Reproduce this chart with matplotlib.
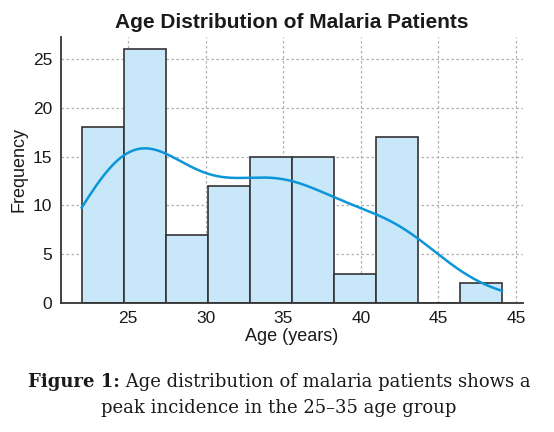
import numpy as np
import matplotlib
matplotlib.use("Agg")
import matplotlib.pyplot as plt

# ---- data ----
age_min = 22.0
age_max = 49.1
n_bins = 10
counts = [18, 26, 7, 12, 15, 15, 3, 17, 0, 2]
xtick_values = [25, 30, 35, 40, 45, 50]
xtick_labels = ["25", "30", "35", "40", "45", "45"]
ytick_values = [0, 5, 10, 15, 20, 25]
title = "Age Distribution of Malaria Patients"
xlabel = "Age (years)"
ylabel = "Frequency"
caption_bold = "Figure 1:"
caption_line1 = " Age distribution of malaria patients shows a"
caption_line2 = "peak incidence in the 25\u201335 age group"

plt.rcParams['font.family'] = ['Liberation Sans', 'DejaVu Sans']

edges = np.linspace(age_min, age_max, n_bins + 1)
centers = (edges[:-1] + edges[1:]) / 2
width = edges[1] - edges[0]
counts_arr = np.array(counts)

fig = plt.figure(figsize=(5.54, 4.32), dpi=100)
ax = fig.add_axes([0.1096, 0.2986, 0.8344, 0.6164])

ax.bar(edges[:-1], counts_arr, width=width, align='edge',
       color='#c8e7f9', edgecolor='#333333', linewidth=1.2, zorder=2)

# KDE curve from the histogram counts (scaled to counts)
samples = np.repeat(centers, counts_arr)
n = samples.size
bw = 1.22 * samples.std(ddof=1) * n ** (-1 / 5)
xs = np.linspace(age_min, age_max, 300)
dens = np.exp(-0.5 * ((xs[:, None] - samples[None, :]) / bw) ** 2).sum(axis=1)
dens = dens / (n * bw * np.sqrt(2 * np.pi))
ax.plot(xs, dens * n * width, color='#0a96d8', linewidth=1.8, zorder=3)

span = age_max - age_min
ax.set_xlim(age_min - 0.05 * span, age_max + 0.05 * span)
ax.set_ylim(0, max(counts) * 1.05)
ax.set_xticks(xtick_values)
ax.set_xticklabels(xtick_labels)
ax.set_yticks(ytick_values)
ax.tick_params(axis='both', length=0, labelsize=12.5, colors='#1a1a1a', pad=6)
ax.grid(True, linestyle=(0, (2, 2)), color='#b0b0b0', linewidth=0.9, zorder=0)
ax.set_axisbelow(True)
for s in ['top', 'right']:
    ax.spines[s].set_visible(False)
for s in ['left', 'bottom']:
    ax.spines[s].set_color('#333333')
    ax.spines[s].set_linewidth(1.3)

ax.set_title(title, fontsize=15, fontweight='bold', color='#1a1a1a', pad=6)
ax.set_xlabel(xlabel, fontsize=13, color='#1a1a1a', labelpad=1)
ax.set_ylabel(ylabel, fontsize=13, color='#1a1a1a', labelpad=4)

serif = ['DejaVu Serif']
cap_size = 12.0
t1 = fig.text(0, 1 - 387 / 432, caption_bold, fontsize=cap_size,
              fontweight='bold', family=serif, color='#1a1a1a', va='baseline')
t2 = fig.text(0, 1 - 387 / 432, caption_line1, fontsize=cap_size,
              family=serif, color='#1a1a1a', va='baseline')
fig.canvas.draw()
r = fig.canvas.get_renderer()
total = t1.get_window_extent(r).width + t2.get_window_extent(r).width
cap_size = cap_size * 498 / total
t1.set_fontsize(cap_size)
t2.set_fontsize(cap_size)
fig.canvas.draw()
w1 = t1.get_window_extent(r).width
w2 = t2.get_window_extent(r).width
x0 = 279 - (w1 + w2) / 2
t1.set_x(x0 / 554)
t2.set_x((x0 + w1) / 554)
fig.text(279 / 554, 1 - 413 / 432, caption_line2, fontsize=cap_size,
         family=serif, color='#1a1a1a', va='baseline', ha='center')

fig.savefig("out.png", dpi=100)
